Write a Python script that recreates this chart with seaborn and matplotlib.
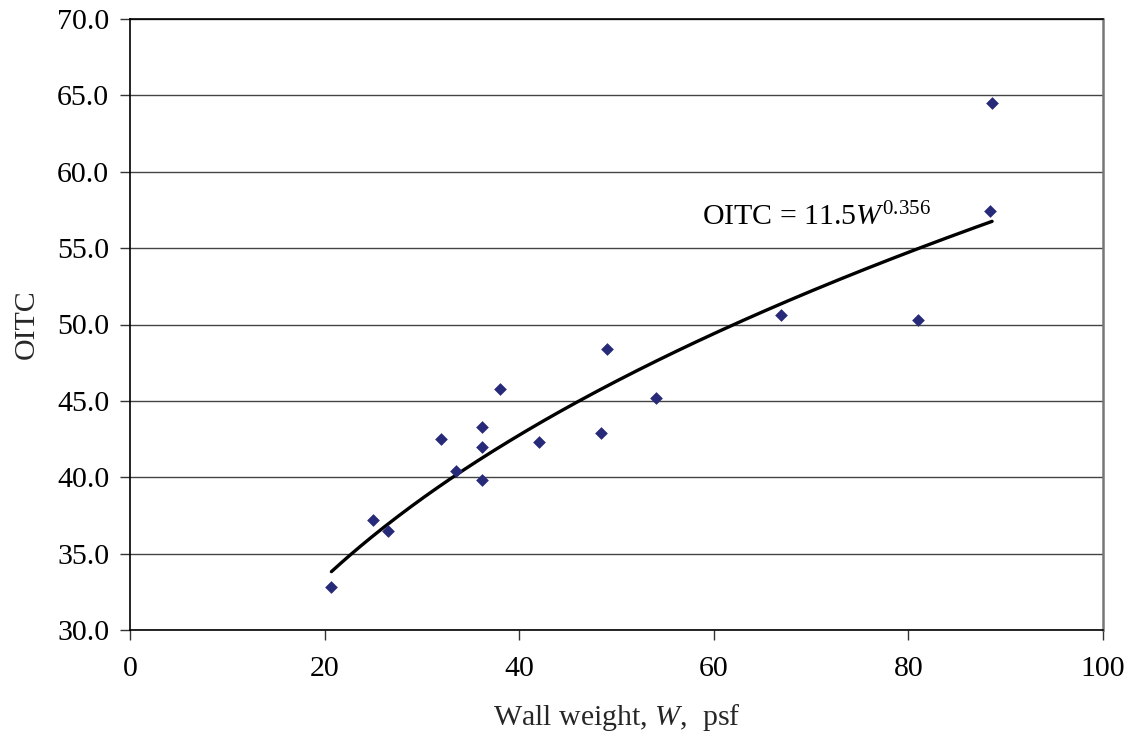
import numpy as np
import pandas as pd
import matplotlib
matplotlib.use("Agg")
import matplotlib.pyplot as plt
import seaborn as sns

# Data
wall_weight = [20.7, 25.0, 26.5, 32.0, 33.5, 36.2, 36.2, 36.2, 38.0, 42.0,
               48.4, 49.0, 54.1, 66.9, 81.0, 88.4, 88.6]
oitc = [32.8, 37.2, 36.5, 42.5, 40.4, 43.3, 42.0, 39.8, 45.8, 42.3,
        42.9, 48.4, 45.2, 50.6, 50.3, 57.4, 64.5]
trend_a = 11.5
trend_b = 0.356
x_ticks = [0, 20, 40, 60, 80, 100]
y_ticks = [30.0, 35.0, 40.0, 45.0, 50.0, 55.0, 60.0, 65.0, 70.0]

sns.set_theme(style="white")
plt.rcParams['font.family'] = ['Liberation Serif', 'DejaVu Serif']
plt.rcParams['mathtext.fontset'] = 'custom'
plt.rcParams['mathtext.rm'] = 'Liberation Serif'
plt.rcParams['mathtext.it'] = 'Liberation Serif:italic'

df = pd.DataFrame({"W": wall_weight, "OITC": oitc})
w_fit = np.linspace(min(wall_weight), max(wall_weight), 200)
fit_df = pd.DataFrame({"W": w_fit, "OITC": trend_a * w_fit ** trend_b})

fig = plt.figure(figsize=(11.33, 7.44), dpi=100)
ax = fig.add_axes([130/1133, 1 - 630/744, (1103-130)/1133, (630-19)/744])

for y in y_ticks:
    ax.axhline(y, color="#444444", lw=1.0, zorder=0)

sns.lineplot(data=fit_df, x="W", y="OITC", ax=ax, color="black", lw=2.4, zorder=2)
sns.scatterplot(data=df, x="W", y="OITC", ax=ax, marker="D", s=42,
                color="#262a78", edgecolor="#262a78", linewidth=0, zorder=3)

ax.set_xlim(0, 100)
ax.set_ylim(30, 70)
ax.set_xticks(x_ticks)
ax.set_xticklabels([str(v) for v in x_ticks])
ax.set_yticks(y_ticks)
ax.set_yticklabels([f"{v:.1f}" for v in y_ticks])
ax.tick_params(axis="both", which="major", labelsize=21.5, direction="out",
               length=7, width=1, color="#333333", left=True, bottom=True,
               labelcolor="black")
ax.tick_params(axis="x", pad=12)
ax.tick_params(axis="y", pad=8)

for side in ["left", "bottom", "top"]:
    ax.spines[side].set_color("black")
    ax.spines[side].set_linewidth(1.2)
ax.spines["right"].set_color("#777777")
ax.spines["right"].set_linewidth(1.8)

ax.set_xlabel(r"Wall weight, $W$,  psf", fontsize=21.5, labelpad=14)
ax.set_ylabel("OITC", fontsize=21.5, labelpad=12)

ax.text(58.8, 56.5, r"OITC = 11.5$W^{0.356}$", fontsize=21.5, va="baseline",
        ha="left", color="black", zorder=4)

fig.savefig("out.png", dpi=100)
